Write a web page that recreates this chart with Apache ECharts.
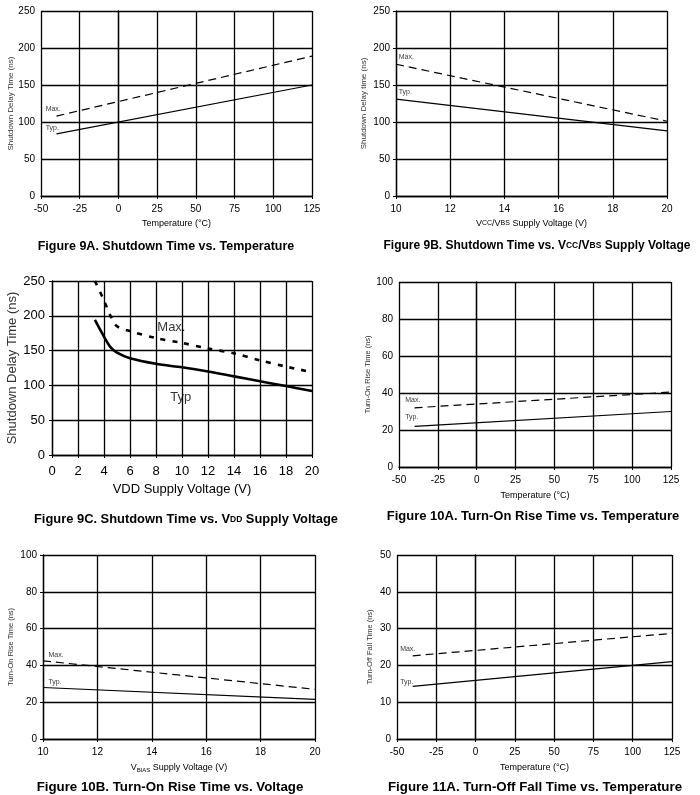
<!DOCTYPE html>
<html><head><meta charset="utf-8">
<script src="https://cdn.jsdelivr.net/npm/echarts@6/dist/echarts.min.js"></script>
<style>html,body{margin:0;padding:0;background:#fff}#c{width:700px;height:795px}</style>
</head><body><div id="c"></div>
<script>
// ---- data ----
const tempX = [-40, 125];
const f9A_typ = [84, 150];
const f9A_max = [108, 189];
const voltX = [10, 20];
const f9B_typ = [131, 88];
const f9B_max = [178, 101];
const f9C_x   = [3.3, 4, 4.5, 5, 6, 8, 10, 12, 14, 16, 18, 20];
const f9C_typ = [194, 170, 155, 147, 139, 131, 126, 120, 113, 106, 99, 92];
const f9C_max = [250, 222, 200, 185, 178, 168, 161, 153, 146, 136, 127, 119];
const f10A_typ = [22, 30];
const f10A_max = [32, 40.5];
const f10B_typ = [28, 21.5];
const f10B_max = [42.5, 27];
const f11A_typ = [14.3, 21];
const f11A_max = [22.6, 28.7];
// label anchor points [x, y]
const lbl9A = {max: [-47, 118], typ: [-47, 92]};
const lbl9B = {max: [10.1, 188], typ: [10.1, 140]};
const lbl9C = {max: [8.1, 184], typ: [9.1, 83]};
const lbl10A = {max: [-46, 36], typ: [-46, 27]};
const lbl10B = {max: [10.2, 45.5], typ: [10.2, 31]};
const lbl11A = {max: [-48, 24.5], typ: [-48, 15.5]};
const titles = [
  'Figure 9A. Shutdown Time vs. Temperature',
  'Figure 9B. Shutdown Time vs. V{s|CC}/V{s|BS} Supply Voltage',
  'Figure 9C. Shutdown Time vs. V{s|DD} Supply Voltage',
  'Figure 10A. Turn-On Rise Time vs. Temperature',
  'Figure 10B. Turn-On Rise Time vs. Voltage',
  'Figure 11A. Turn-Off Fall Time vs. Temperature'
];

const FONT = 'Liberation Sans, Arial, sans-serif';
const grids = [
  {left: 41, top: 11, width: 271, height: 185},
  {left: 396, top: 11, width: 271, height: 185},
  {left: 52, top: 281, width: 260, height: 174},
  {left: 399, top: 282, width: 272, height: 185},
  {left: 43, top: 555, width: 272, height: 184},
  {left: 397, top: 555, width: 275, height: 184}
];
const titlePos = [[161, 235], [532, 235], [181, 508], [528, 505], [165, 776], [530, 776]];
const titleSize = [12.5, 12, 12.9, 13, 13.3, 13.3];

function xAx(i, min, max, interval, name, big, gap) {
  return {
    gridIndex: i, type: 'value', min, max, interval,
    name, nameLocation: 'middle', nameGap: gap,
    nameTextStyle: {fontFamily: FONT, fontSize: big ? 13 : 9, color: '#000',
      rich: {s: {fontFamily: FONT, fontSize: big ? 13 : 7, color: '#000'},
             sub: {fontFamily: FONT, fontSize: 6, color: '#000', verticalAlign: 'bottom', padding: [4, 0, 0, 0]}}},
    axisLine: {lineStyle: {color: '#000', width: 1.3}},
    axisTick: {show: true, length: 3, lineStyle: {color: '#000'}},
    axisLabel: {fontFamily: FONT, fontSize: big ? 13 : 10, color: '#000', margin: big ? 10 : 8},
    splitLine: {show: true, lineStyle: {color: '#000', width: 1.3}}
  };
}
function yAx(i, min, max, interval, name, big, gap, fs) {
  return {
    gridIndex: i, type: 'value', min, max, interval,
    name, nameLocation: 'middle', nameGap: gap,
    nameTextStyle: {fontFamily: FONT, fontSize: fs, color: '#333'},
    axisLine: {show: true, lineStyle: {color: '#000', width: 1.3}},
    axisTick: {show: true, length: 3, lineStyle: {color: '#000'}},
    axisLabel: {fontFamily: FONT, fontSize: big ? 13 : 10, color: '#000', margin: big ? 7 : 6},
    splitLine: {show: true, lineStyle: {color: '#000', width: 1.3}}
  };
}
function pair(xs, ys) { return xs.map((x, k) => [x, ys[k]]); }
function lineS(i, data, dashed, big) {
  return {
    type: 'line', xAxisIndex: i, yAxisIndex: i, data, symbol: 'none', smooth: big ? 0.3 : false,
    lineStyle: {color: '#000', width: big ? 2.6 : 1.2,
      type: dashed ? (big ? [5, 7] : [8, 5]) : 'solid'},
    z: 5, silent: true
  };
}
function labelS(i, lbl, big, typText) {
  return {
    type: 'scatter', xAxisIndex: i, yAxisIndex: i, symbolSize: 0, silent: true,
    data: [{value: lbl.max, name: 'Max.'}, {value: lbl.typ, name: typText}],
    label: {show: true, formatter: '{b}', position: 'right', distance: 0,
      fontFamily: FONT, fontSize: big ? 13 : 7, color: '#000'}
  };
}

const option = {
  backgroundColor: '#fff',
  animation: false,
  grid: grids,
  title: titles.map((t, k) => ({
    text: t, left: titlePos[k][0], top: titlePos[k][1], textAlign: 'center',
    textStyle: {fontFamily: FONT, fontSize: titleSize[k], fontWeight: 'bold', color: '#000',
      rich: {s: {fontFamily: FONT, fontSize: 8.5, fontWeight: 'bold', color: '#000'}}}
  })),
  xAxis: [
    xAx(0, -50, 125, 25, 'Temperature (°C)', false, 23),
    xAx(1, 10, 20, 2, 'V{s|CC}/V{s|BS} Supply Voltage (V)', false, 23),
    xAx(2, 0, 20, 2, 'VDD Supply Voltage (V)', true, 28),
    xAx(3, -50, 125, 25, 'Temperature (°C)', false, 24),
    xAx(4, 10, 20, 2, 'V{sub|BIAS} Supply Voltage (V)', false, 24),
    xAx(5, -50, 125, 25, 'Temperature (°C)', false, 24)
  ],
  yAxis: [
    yAx(0, 0, 250, 50, 'Shutdown Delay Time (ns)', false, 24, 8),
    yAx(1, 0, 250, 50, 'Shutdown Delay time (ns)', false, 28, 8),
    yAx(2, 0, 250, 50, 'Shutdown Delay Time (ns)', true, 32, 13),
    yAx(3, 0, 100, 20, 'Turn-On Rise Time (ns)', false, 27, 7.5),
    yAx(4, 0, 100, 20, 'Turn-On Rise Time (ns)', false, 28, 7.5),
    yAx(5, 0, 50, 10, 'Turn-Off Fall Time (ns)', false, 23, 7.5)
  ],
  series: [
    lineS(0, pair(tempX, f9A_typ), false), lineS(0, pair(tempX, f9A_max), true), labelS(0, lbl9A, false, 'Typ.'),
    lineS(1, pair(voltX, f9B_typ), false), lineS(1, pair(voltX, f9B_max), true), labelS(1, lbl9B, false, 'Typ.'),
    lineS(2, pair(f9C_x, f9C_typ), false, true), lineS(2, pair(f9C_x, f9C_max), true, true), labelS(2, lbl9C, true, 'Typ'),
    lineS(3, pair(tempX, f10A_typ), false), lineS(3, pair(tempX, f10A_max), true), labelS(3, lbl10A, false, 'Typ.'),
    lineS(4, pair(voltX, f10B_typ), false), lineS(4, pair(voltX, f10B_max), true), labelS(4, lbl10B, false, 'Typ.'),
    lineS(5, pair(tempX, f11A_typ), false), lineS(5, pair(tempX, f11A_max), true), labelS(5, lbl11A, false, 'Typ.')
  ]
};
const chart = echarts.init(document.getElementById('c'), null, {renderer: 'canvas'});
chart.setOption(option);
</script></body></html>
